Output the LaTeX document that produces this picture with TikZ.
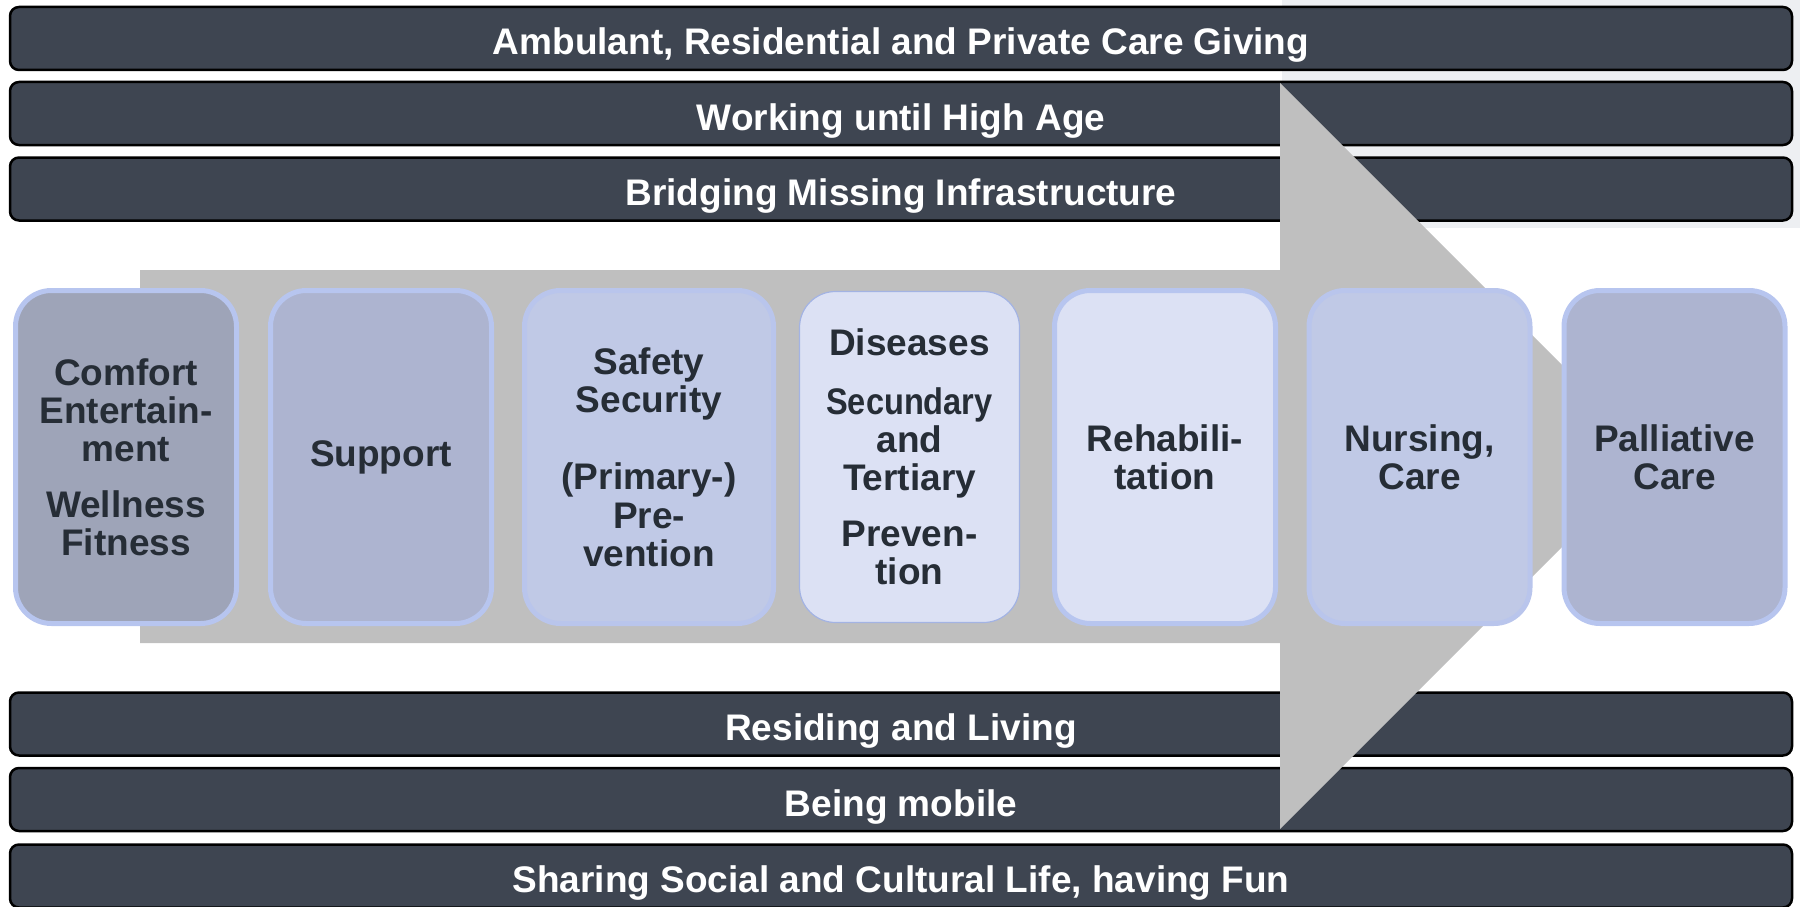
\documentclass[tikz,border=0pt]{standalone}
\usepackage{fontspec}
\setmainfont{Liberation Sans}
\definecolor{barfill}{HTML}{3E4551}
\definecolor{arrowgray}{HTML}{BFBFBF}
\definecolor{boxline}{HTML}{B7C5EF}
\definecolor{boxlineB}{HTML}{B9C5EC}
\definecolor{boxtext}{HTML}{262D36}
\definecolor{fillA}{HTML}{9EA4B8}
\definecolor{fillB}{HTML}{ADB4D0}
\definecolor{fillC}{HTML}{C0C9E6}
\definecolor{fillD}{HTML}{DCE1F4}
\definecolor{thinline}{HTML}{A3B3E3}
\definecolor{bgpatch}{HTML}{EDEFF2}
\begin{document}
\begin{tikzpicture}[x=1pt,y=-1pt,
  bar/.style={draw=black, line width=2.5pt, fill=barfill, rounded corners=9pt,
    minimum width=1782pt, minimum height=63pt, text=white,
    font=\fontsize{37}{40}\selectfont\bfseries, text height=33pt, text depth=0pt, inner sep=0pt},
  stage/.style={draw=boxline, line width=5pt, rounded corners=36pt,
    minimum width=221pt, minimum height=333pt, text=boxtext, align=center,
    font=\fontsize{37}{38.3}\selectfont\bfseries, inner sep=0pt},
]
\clip (0,0) rectangle (1800,907);
\fill[bgpatch] (1282,0) rectangle (1800,228);
% horizontal bars
\node[bar] (care) at (901,38.5) {Ambulant, Residential and Private Care Giving};
\node[bar] (work) at (901,113.5) {Working until High Age};
\node[bar] (infra) at (901,189) {Bridging Missing Infrastructure};
\node[bar] (living) at (901,724) {Residing and Living};
\node[bar] (mobile) at (901,799.5) {Being mobile};
\node[bar] (social) at (901,876) {Sharing Social and Cultural Life, having Fun};
% big gray arrow
\fill[arrowgray] (140,270) -- (1280,270) -- (1280,83) -- (1653,456) -- (1280,829) -- (1280,643) -- (140,643) -- cycle;
% stage boxes
\node[stage, fill=fillA] (comfort) at (126,457) {Comfort\\Entertain-\\ment\\[17pt]Wellness\\Fitness};
\node[stage, fill=fillB] (support) at (381,457) {Support};
\node[stage, fill=fillC, draw=boxlineB, minimum width=249pt] (safety) at (649,457) {Safety\\Security\\[39pt](Primary-)\\Pre-\\vention};
\node[stage, fill=fillD, draw=thinline, line width=1.2pt, minimum width=220pt, minimum height=331pt] (diseases) at (909.5,457) {Diseases\\[20pt]\scalebox{0.88}[1]{Secundary}\\and\\Tertiary\\[17pt]Preven-\\tion};
\node[stage, fill=fillD] (rehab) at (1165,457) {Rehabili-\\tation};
\node[stage, fill=fillC, draw=boxlineB] (nursing) at (1419.5,457) {Nursing,\\Care};
\node[stage, fill=fillB] (palliative) at (1674.5,457) {Palliative\\Care};
\end{tikzpicture}
\end{document}
